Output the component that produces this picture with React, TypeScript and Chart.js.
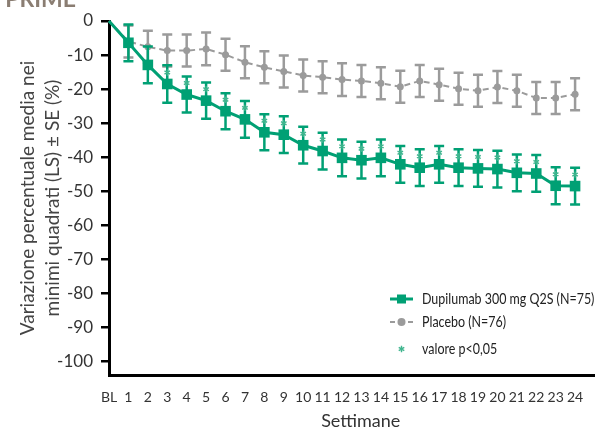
import React, { useEffect, useRef } from "react";
import { Chart, registerables } from "chart.js";

Chart.register(...registerables);

const weeks = [0, 1, 2, 3, 4, 5, 6, 7, 8, 9, 10, 11, 12, 13, 14, 15, 16, 17, 18, 19, 20, 21, 22, 23, 24];
const weekLabels = ["BL", "1", "2", "3", "4", "5", "6", "7", "8", "9", "10", "11", "12", "13", "14", "15", "16", "17", "18", "19", "20", "21", "22", "23", "24"];
const yTicks = [0, -10, -20, -30, -40, -50, -60, -70, -80, -90, -100];

const dupiMean = [0, -6.4, -12.9, -18.5, -21.6, -23.4, -26.5, -28.9, -32.7, -33.4, -36.5, -38.2, -40.2, -40.9, -40.2, -42.1, -43.1, -42.1, -43.1, -43.3, -43.5, -44.6, -44.8, -48.4, -48.5];
const dupiSE = [0, 5.4, 5.4, 5.5, 5.3, 5.3, 5.3, 5.4, 5.3, 5.4, 5.4, 5.4, 5.4, 5.4, 5.4, 5.4, 5.4, 5.4, 5.4, 5.4, 5.4, 5.4, 5.4, 5.4, 5.4];
const placeboMean = [0, -6.0, -7.6, -8.7, -8.7, -8.2, -9.9, -12.1, -13.6, -14.8, -16.0, -16.5, -17.2, -17.6, -18.3, -19.3, -17.6, -18.7, -19.9, -20.5, -19.4, -20.5, -22.6, -22.6, -21.5];
const placeboSE = [0, 4.7, 4.7, 4.7, 4.7, 4.8, 4.7, 4.7, 4.7, 4.7, 4.7, 4.7, 4.8, 4.7, 4.7, 4.7, 4.7, 4.7, 4.7, 4.7, 4.7, 4.7, 4.7, 4.7, 4.7];
const significantWeeks = [3, 4, 5, 6, 7, 8, 9, 10, 11, 12, 13, 14, 15, 16, 17, 18, 19, 20, 21, 22, 23, 24];

const dupiLabel = "Dupilumab 300 mg Q2S (N=75)";
const placeboLabel = "Placebo (N=76)";
const sigLabel = "valore p<0,05";
const panelTitle = "B. PRIME";
const xTitle = "Settimane";
const yTitle = ["Variazione percentuale media nei", "minimi quadrati (LS) ± SE (%)"];

const GREEN = "#00a074";
const GRAY = "#9b9b9b";
const STAR = "#3fb58e";
const FONT = "Lato, 'Open Sans', sans-serif";

function drawAsterisk(ctx: CanvasRenderingContext2D, x: number, y: number, r: number) {
  ctx.beginPath();
  for (let k = 0; k < 3; k++) {
    const a = (Math.PI / 3) * k + Math.PI / 2;
    ctx.moveTo(x + r * Math.cos(a), y + r * Math.sin(a));
    ctx.lineTo(x - r * Math.cos(a), y - r * Math.sin(a));
  }
  ctx.stroke();
}

function condensedText(ctx: CanvasRenderingContext2D, text: string, x: number, y: number, sx: number) {
  ctx.save();
  ctx.translate(x, y);
  ctx.scale(sx, 1);
  ctx.fillText(text, 0, 0);
  ctx.restore();
}

const errorBarPlugin = {
  id: "errorBars",
  beforeDatasetDraw(chart: any, args: any) {
    const ctx = chart.ctx as CanvasRenderingContext2D;
    const xs = chart.scales.x;
    const ys = chart.scales.y;
    const idx = args.index;
    const means = idx === 0 ? dupiMean : placeboMean;
    const ses = idx === 0 ? dupiSE : placeboSE;
    const color = idx === 0 ? GREEN : GRAY;
    ctx.save();
    ctx.strokeStyle = color;
    ctx.lineWidth = 2.5;
    weeks.forEach((w, i) => {
      if (!ses[i]) return;
      const px = xs.getPixelForValue(w);
      const top = ys.getPixelForValue(means[i] + ses[i]);
      const bot = ys.getPixelForValue(means[i] - ses[i]);
      ctx.beginPath();
      ctx.moveTo(px, top);
      ctx.lineTo(px, bot);
      ctx.moveTo(px - 5, top);
      ctx.lineTo(px + 5, top);
      ctx.moveTo(px - 5, bot);
      ctx.lineTo(px + 5, bot);
      ctx.stroke();
    });
    ctx.restore();
  },
  afterDatasetsDraw(chart: any) {
    const ctx = chart.ctx as CanvasRenderingContext2D;
    const xs = chart.scales.x;
    const ys = chart.scales.y;
    ctx.save();
    ctx.strokeStyle = STAR;
    ctx.lineWidth = 1.4;
    significantWeeks.forEach((w) => {
      const i = weeks.indexOf(w);
      const px = xs.getPixelForValue(w);
      const py = ys.getPixelForValue(dupiMean[i]) - 11.5;
      drawAsterisk(ctx, px, py, 3.2);
    });
    ctx.restore();
  },
  afterDraw(chart: any) {
    const ctx = chart.ctx as CanvasRenderingContext2D;
    const ca = chart.chartArea;
    ctx.save();
    // clipped panel title
    ctx.fillStyle = "#8a7d72";
    ctx.font = `bold 23px ${FONT}`;
    ctx.textAlign = "right";
    ctx.textBaseline = "alphabetic";
    ctx.fillText(panelTitle, 76, 7);

    // x-axis title
    ctx.fillStyle = "#333";
    ctx.font = `18px ${FONT}`;
    ctx.textAlign = "center";
    ctx.textBaseline = "middle";
    ctx.fillText(xTitle, (ca.left + ca.right) / 2 + 9, 421);

    // legend
    const lx0 = 390, lx1 = 413, tx = 422;
    const rows = [299, 322, 349];
    const cx = (lx0 + lx1) / 2;
    ctx.font = `15px ${FONT}`;
    ctx.textAlign = "left";
    ctx.textBaseline = "middle";
    ctx.strokeStyle = GREEN;
    ctx.lineWidth = 3;
    ctx.beginPath();
    ctx.moveTo(lx0, rows[0]);
    ctx.lineTo(lx1, rows[0]);
    ctx.stroke();
    ctx.fillStyle = GREEN;
    ctx.fillRect(cx - 4.5, rows[0] - 4.5, 9, 9);
    ctx.fillStyle = "#222";
    condensedText(ctx, dupiLabel, tx, rows[0], 0.83);

    ctx.strokeStyle = GRAY;
    ctx.lineWidth = 2;
    ctx.setLineDash([5, 4]);
    ctx.beginPath();
    ctx.moveTo(lx0, rows[1]);
    ctx.lineTo(lx1, rows[1]);
    ctx.stroke();
    ctx.setLineDash([]);
    ctx.fillStyle = GRAY;
    ctx.beginPath();
    ctx.arc(cx, rows[1], 4, 0, Math.PI * 2);
    ctx.fill();
    ctx.fillStyle = "#222";
    condensedText(ctx, placeboLabel, tx, rows[1], 0.83);

    ctx.strokeStyle = STAR;
    ctx.lineWidth = 1.4;
    drawAsterisk(ctx, cx, rows[2], 3.2);
    ctx.fillStyle = "#222";
    condensedText(ctx, sigLabel, tx, rows[2], 0.83);
    ctx.restore();
  },
};

export default function App() {
  const ref = useRef<HTMLCanvasElement | null>(null);
  useEffect(() => {
    if (!ref.current) return;
    const chart = new Chart(ref.current, {
      type: "line",
      data: {
        datasets: [
          {
            label: dupiLabel,
            data: weeks.map((w, i) => ({ x: w, y: dupiMean[i] })),
            borderColor: GREEN,
            backgroundColor: GREEN,
            borderWidth: 3,
            pointStyle: "rect",
            pointRadius: weeks.map((w) => (w === 0 ? 0 : 7.5)),
            pointBorderWidth: 0,
            tension: 0,
            clip: false,
          },
          {
            label: placeboLabel,
            data: weeks.map((w, i) => ({ x: w, y: placeboMean[i] })),
            borderColor: GRAY,
            backgroundColor: GRAY,
            borderWidth: 2,
            borderDash: [6, 4],
            pointStyle: "circle",
            pointRadius: weeks.map((w) => (w === 0 ? 0 : 3.5)),
            pointBorderWidth: 0,
            tension: 0,
            clip: false,
          },
        ],
      },
      options: {
        responsive: false,
        animation: false,
        layout: { padding: { top: 21, right: 2, bottom: 0, left: 0 } },
        plugins: { legend: { display: false }, tooltip: { enabled: false } },
        scales: {
          x: {
            type: "linear",
            min: 0,
            max: 25,
            afterFit: (s: any) => { s.height = 57; },
            afterBuildTicks: (s: any) => { s.ticks = weeks.map((v) => ({ value: v })); },
            grid: { display: true, drawOnChartArea: false, drawTicks: false, color: "transparent" },
            border: { display: true, color: "#000", width: 3 },
            ticks: {
              autoSkip: false,
              maxRotation: 0,
              padding: 14,
              color: "#333",
              font: { family: FONT, size: 14 },
              callback: (v: any) => weekLabels[weeks.indexOf(Number(v))] ?? "",
            },
            title: { display: false },
          },
          y: {
            type: "linear",
            min: -104,
            max: 0,
            afterFit: (s: any) => { s.width = 109; },
            afterBuildTicks: (s: any) => { s.ticks = yTicks.map((v) => ({ value: v })); },
            grid: { display: true, drawOnChartArea: false, drawTicks: true, tickLength: 8, color: "#000", lineWidth: 2.5 },
            border: { display: true, color: "#000", width: 3 },
            ticks: {
              padding: 8,
              color: "#333",
              font: { family: FONT, size: 17 },
            },
            title: {
              display: true,
              text: yTitle,
              color: "#444",
              font: { family: FONT, size: 19, lineHeight: 1.3 },
              padding: { top: 16, bottom: 0 },
            },
          },
        },
      },
      plugins: [errorBarPlugin],
    } as any);
    return () => chart.destroy();
  }, []);
  return (
    <div style={{ position: "fixed", left: 0, top: 0, width: 602, height: 432, background: "#fff" }}>
      <canvas ref={ref} width={602} height={432} style={{ width: 602, height: 432, display: "block" }} />
    </div>
  );
}
